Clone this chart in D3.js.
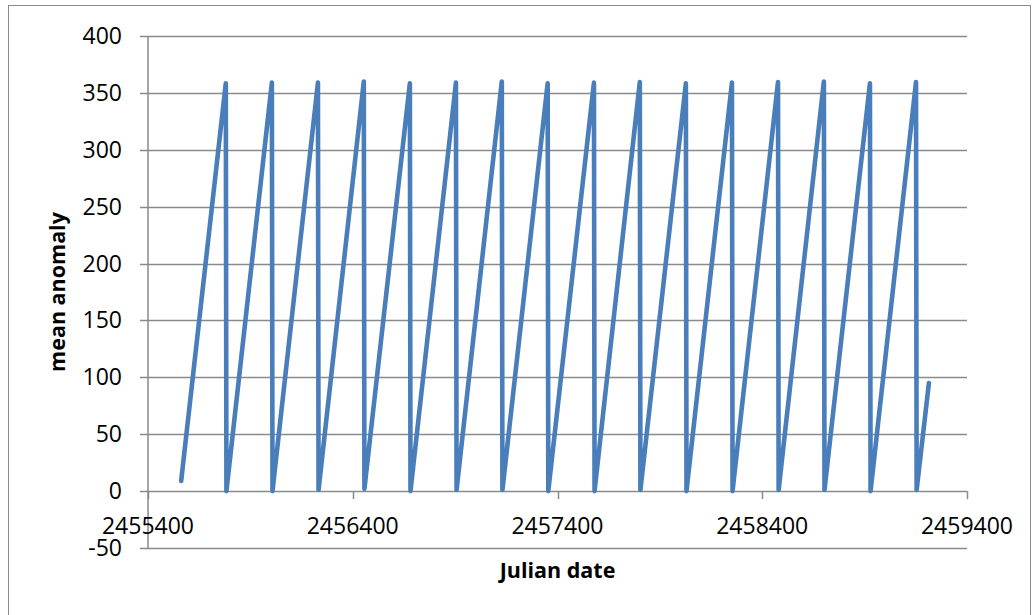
<!DOCTYPE html>
<html>
<head>
<meta charset="utf-8">
<script src="https://cdn.jsdelivr.net/npm/d3@7"></script>
<style>
  html, body { margin: 0; padding: 0; background: #ffffff; }
  svg { display: block; }
</style>
</head>
<body>
<svg id="chart" width="1035" height="615"></svg>
<script>
// Julian date of each sample
const julianDates = [
  2455562,
  2455780, 2455783,
  2456005, 2456008,
  2456230, 2456233,
  2456454, 2456457,
  2456679, 2456682,
  2456904, 2456907,
  2457128, 2457131,
  2457352, 2457355,
  2457578, 2457581,
  2457802, 2457805,
  2458027, 2458030,
  2458252, 2458255,
  2458477, 2458480,
  2458701, 2458704,
  2458926, 2458929,
  2459151, 2459154,
  2459214
];

// Mean anomaly (degrees) at each sample
const meanAnomaly = [
  9,
  358.5, 0,
  359, 0,
  359, 1,
  360, 2,
  358.5, 0,
  359, 1,
  360, 1,
  358.5, 0,
  359, 0,
  359.5, 1,
  358.5, 0,
  359, 0,
  359.5, 1,
  360, 1,
  358.5, 0,
  359.5, 1,
  95
];

const xTicks = [2455400, 2456400, 2457400, 2458400, 2459400];
const yTicks = [-50, 0, 50, 100, 150, 200, 250, 300, 350, 400];

const xTitle = "Julian date";
const yTitle = "mean anomaly";

const svg = d3.select("#chart");

const plot = { left: 148, right: 967, top: 36, bottom: 548 };

const x = d3.scaleLinear().domain([2455400, 2459400]).range([plot.left, plot.right]);
const y = d3.scaleLinear().domain([-50, 400]).range([plot.bottom, plot.top]);

const gridColor = "#8a8a8a";
const tickFont = "'Open Sans', 'Liberation Sans', sans-serif";

// outer chart frame
svg.append("rect")
  .attr("x", 8.5).attr("y", 5.5)
  .attr("width", 1022).attr("height", 640)
  .attr("fill", "none")
  .attr("stroke", gridColor)
  .attr("stroke-width", 1);

// horizontal gridlines (with outward tick stubs on the left)
svg.append("g")
  .selectAll("line")
  .data(yTicks)
  .join("line")
  .attr("x1", plot.left - 8)
  .attr("x2", plot.right)
  .attr("y1", d => Math.round(y(d)) + 0.5)
  .attr("y2", d => Math.round(y(d)) + 0.5)
  .attr("stroke", gridColor)
  .attr("stroke-width", 1.5);

// vertical axis line
svg.append("line")
  .attr("x1", plot.left).attr("x2", plot.left)
  .attr("y1", y(400)).attr("y2", y(-50))
  .attr("stroke", gridColor)
  .attr("stroke-width", 1.5);

// horizontal axis crosses at zero, ticks point down
svg.append("g")
  .selectAll("line")
  .data(xTicks)
  .join("line")
  .attr("x1", d => Math.round(x(d)) + 0.5)
  .attr("x2", d => Math.round(x(d)) + 0.5)
  .attr("y1", y(0))
  .attr("y2", y(0) + 8)
  .attr("stroke", gridColor)
  .attr("stroke-width", 1.5);

// y tick labels
svg.append("g")
  .selectAll("text")
  .data(yTicks)
  .join("text")
  .attr("x", 122)
  .attr("y", d => y(d) + 8)
  .attr("text-anchor", "end")
  .attr("font-family", tickFont)
  .attr("font-size", 23)
  .attr("fill", "#000")
  .text(d => d);

// x tick labels
svg.append("g")
  .selectAll("text")
  .data(xTicks)
  .join("text")
  .attr("x", d => x(d))
  .attr("y", 534)
  .attr("text-anchor", "middle")
  .attr("font-family", tickFont)
  .attr("font-size", 23)
  .attr("fill", "#000")
  .text(d => d);

// series line
const points = julianDates.map((jd, i) => [jd, meanAnomaly[i]]);
const line = d3.line().x(d => x(d[0])).y(d => y(d[1]));

svg.append("path")
  .datum(points)
  .attr("d", line)
  .attr("fill", "none")
  .attr("stroke", "#4a7ebb")
  .attr("stroke-width", 4.6)
  .attr("stroke-linejoin", "round")
  .attr("stroke-linecap", "round");

// axis titles
svg.append("text")
  .attr("x", (plot.left + plot.right) / 2)
  .attr("y", 578)
  .attr("text-anchor", "middle")
  .attr("font-family", tickFont)
  .attr("font-weight", "bold")
  .attr("font-size", 21.5)
  .attr("fill", "#000")
  .text(xTitle);

svg.append("text")
  .attr("transform", `translate(65, ${(plot.top + plot.bottom) / 2}) rotate(-90)`)
  .attr("text-anchor", "middle")
  .attr("font-family", tickFont)
  .attr("font-weight", "bold")
  .attr("font-size", 21.5)
  .attr("fill", "#000")
  .text(yTitle);
</script>
</body>
</html>
